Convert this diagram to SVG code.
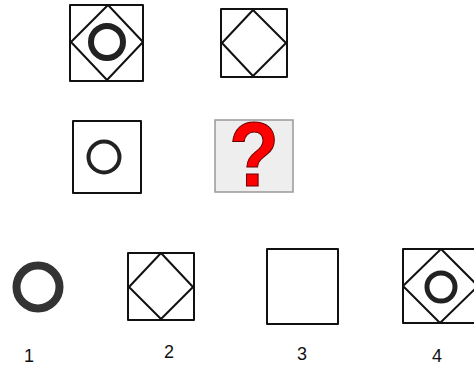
<svg xmlns="http://www.w3.org/2000/svg" width="474" height="368" viewBox="0 0 474 368">
<style>
.ln{fill:none;stroke:#111;stroke-width:2;stroke-linejoin:round}
.ring{fill:none;stroke:#222}
.lbl{font-family:"Liberation Sans",Arial,sans-serif;font-size:18px;fill:#111;text-anchor:middle}
</style>
<rect width="474" height="368" fill="#fff"/>
<g id="q1">
<rect class="ln" x="70" y="5" width="73" height="76"/>
<polygon class="ln" points="108,5 143,42 107,80 71,42"/>
<circle class="ring" cx="107" cy="42" r="16" stroke-width="6"/>
</g>
<g id="q2">
<rect class="ln" x="221" y="9" width="66" height="68"/>
<polygon class="ln" points="253,10 286,43 253,76 222,43"/>
</g>
<g id="q3">
<rect class="ln" x="73" y="121" width="68" height="72"/>
<circle class="ring" cx="104" cy="157" r="15.5" stroke-width="4"/>
</g>
<g id="q4">
<rect x="215" y="120" width="78" height="72" fill="#eeeeee" stroke="#999" stroke-width="1.5"/>
<text x="254" y="186" font-family="Liberation Sans,Arial,sans-serif" font-weight="bold" font-size="82" fill="#ff0000" stroke="#660000" stroke-width="1" text-anchor="middle" transform="translate(254 186) scale(1 1.1) translate(-254 -186)">?</text>
</g>
<g id="opt1">
<circle cx="38" cy="287" r="21.5" fill="none" stroke="#333" stroke-width="8"/>
<text class="lbl" x="29" y="362">1</text>
</g>
<g id="opt2">
<rect class="ln" x="128" y="253" width="66" height="67"/>
<polygon class="ln" points="161,253 193,287 161,319 129,287"/>
<text class="lbl" x="169" y="358">2</text>
</g>
<g id="opt3">
<rect class="ln" x="267" y="249" width="71" height="75"/>
<text class="lbl" x="302" y="360">3</text>
</g>
<g id="opt4">
<rect class="ln" x="403" y="249" width="75" height="74"/>
<polygon class="ln" points="441,249 478,286 440,323 403,286"/>
<circle class="ring" cx="441" cy="287" r="14" stroke-width="5"/>
<text class="lbl" x="437" y="362">4</text>
</g>
<g id="connectors"/>
</svg>
